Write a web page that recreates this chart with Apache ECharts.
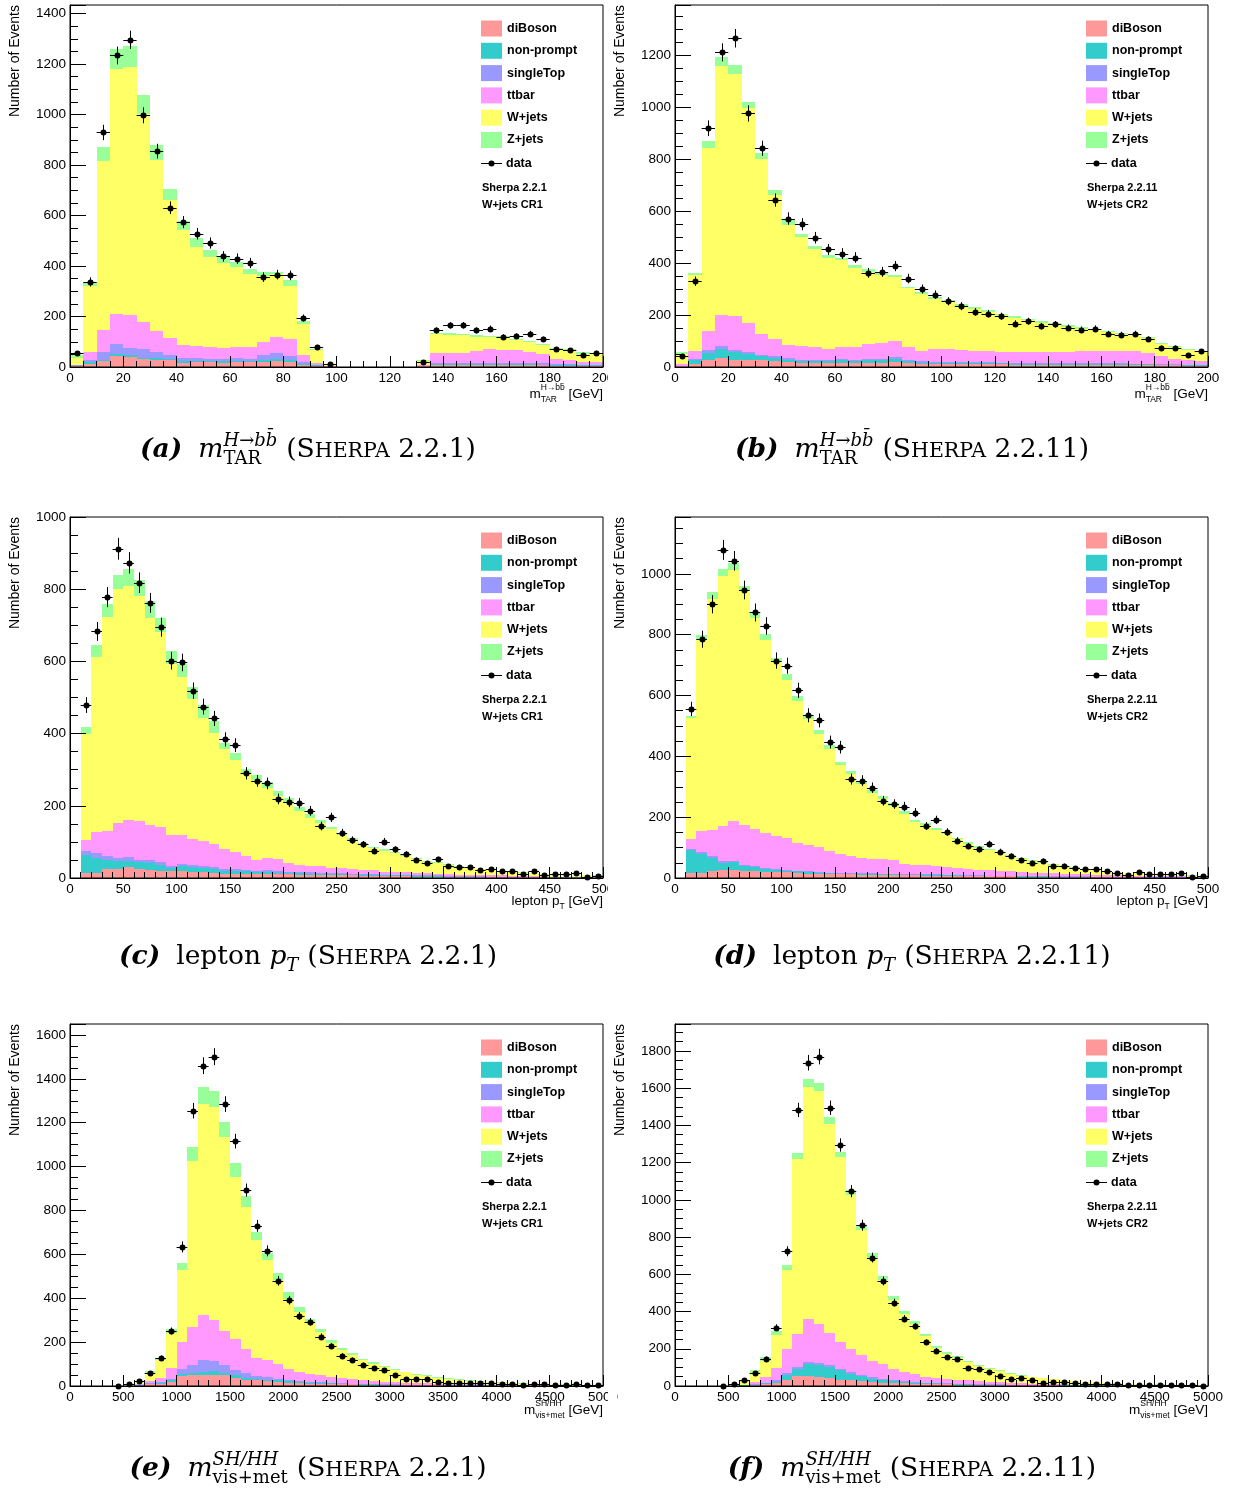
<!DOCTYPE html>
<html>
<head>
<meta charset="utf-8">
<script src="https://cdn.jsdelivr.net/npm/echarts@6/dist/echarts.min.js"></script>
<style>
  html, body { margin: 0; padding: 0; background: #fff; }
  #main { width: 1235px; height: 1492px; }
</style>
</head>
<body>
<div id="main"></div>
<script>
// stack order, bottom to top
const components = ['diBoson', 'non-prompt', 'singleTop', 'ttbar', 'W+jets', 'Z+jets'];
const colors = {
  'diBoson': '#ff9999',
  'non-prompt': '#33cccc',
  'singleTop': '#9999ff',
  'ttbar': '#ff99ff',
  'W+jets': '#ffff66',
  'Z+jets': '#99ff99'
};

// (a) m_TAR, Sherpa 2.2.1, W+jets CR1 -- 40 bins of 5 GeV from 0
const dibosonA   = [4,13,24,42,40,30,29,26,17,18,18,17,18,18,21,24,21,9,5,1, 0,0,0,0,0,0, 2,7,7,7,7,7,7,7,7,6,5,4,4,4];
const nonpromptA = [1,7,5,11,6,7,7,7,5,6,4,5,6,6,5,8,8,2,2,0, 0,0,0,0,0,0, 1,4,4,4,4,4,4,4,4,3,3,3,2,2];
const singletopA = [1,6,30,37,31,33,23,16,15,12,11,8,12,9,20,23,16,9,2,0, 0,0,0,0,0,0, 1,5,5,5,5,5,5,5,5,5,4,3,3,3];
const ttbarA     = [3,33,89,121,130,108,82,66,49,48,46,47,43,46,53,64,65,26,7,1, 0,0,0,0,0,0, 2,39,39,39,47,54,50,50,43,36,21,16,11,11];
const wjetsA     = [28,262,667,968,983,825,680,545,458,391,357,335,317,291,260,248,211,126,50,7, 0,0,0,0,0,0, 18,74,73,72,57,49,53,42,40,37,37,40,33,30];
const zjetsA     = [9,16,55,82,80,75,57,46,34,36,29,24,18,19,17,9,22,10,5,1, 0,0,0,0,0,0, 2,6,5,5,5,4,4,4,4,5,5,5,6,7];
const dataA      = [55,337,929,1234,1296,997,855,631,574,528,491,438,429,412,356,366,363,194,79,13, null,null,null,null,null,null, 20,145,165,165,145,152,119,123,132,110,70,67,49,57];

// (b) m_TAR, Sherpa 2.2.11, W+jets CR2
const dibosonB   = [3,13,26,36,26,28,26,22,18,15,15,15,15,15,17,17,18,14,12, 12,11,11,10,10,10,9,9,9,9,8,8,8,8,8,7,7,6,6,5,5];
const nonpromptB = [1,13,29,35,32,23,15,14,10,7,8,7,11,7,9,9,13,8,5, 5,5,4,4,4,4,4,3,3,3,3,3,3,3,3,3,3,2,2,2,2];
const singletopB = [1,6,9,9,6,7,4,5,8,4,5,4,6,6,6,6,7,4,5, 4,4,4,4,4,3,3,3,3,3,3,3,3,3,3,3,3,2,2,2,2];
const ttbarB     = [8,28,73,119,132,111,83,68,50,54,49,42,45,49,58,60,62,51,40, 49,48,47,45,42,41,40,41,41,43,44,46,48,49,49,47,39,32,22,16,13];
const wjetsB     = [38,295,707,960,931,826,672,552,459,420,375,352,334,304,276,261,246,225,220, 191,182,170,161,152,141,134,124,115,105,97,87,81,72,65,63,59,46,45,40,35];
const zjetsB     = [7,8,25,32,34,23,21,19,20,13,13,10,10,10,10,13,7,6,7, 7,7,7,6,6,6,5,5,5,5,5,5,5,5,4,4,4,4,3,3,3];
const dataB      = [41,330,918,1210,1264,975,841,642,571,549,497,452,436,421,362,366,388,340,300, 278,253,234,212,205,195,167,176,157,164,151,144,148,128,124,128,107,74,74,47,60];

// (c) lepton pT, Sherpa 2.2.1, CR1 -- 49 bins of 10 GeV from 10
const dibosonC   = [14,14,25,26,30,26,23,20,19,19,17,16,14,12,12,11,11,11,10,10,9,9, 8,8,7,7,6,6,5,5,5,4,4,4,3,3,3,3,2,2,2,2,2,1,1,1,1,1,1];
const nonpromptC = [51,42,26,20,16,18,19,17,9,13,13,12,11,8,8,8,5,6,5,4,4,3, 3,3,3,2,2,2,2,2,2,1,1,1,1,1,1,1,1,1,1,1,0,0,0,0,0,0,0];
const singletopC = [9,13,9,10,11,7,9,7,6,8,7,6,6,5,5,4,3,6,5,4,4,4, 4,3,3,3,3,3,2,2,2,2,2,2,2,1,1,1,1,1,1,1,1,1,1,1,1,1,0];
const ttbarC     = [32,58,71,97,105,106,97,97,86,80,71,68,62,54,46,39,32,33,33,24,20,16, 17,15,14,12,11,10,9,8,7,6,6,5,5,4,4,3,3,3,2,2,2,2,1,1,1,1,1];
const wjetsC     = [292,484,593,648,646,625,572,540,473,436,387,342,310,279,256,225,220,194,174,168,148,135, 120,106,91,80,71,61,58,51,44,39,32,29,25,22,18,16,14,12,11,9,8,7,7,6,5,4,4];
const zjetsC     = [19,34,35,39,47,44,46,39,37,37,33,35,32,17,20,16,14,16,14,12,11,9, 8,7,6,6,5,5,4,4,3,3,3,3,2,2,2,2,2,1,1,1,1,1,1,1,1,1,1];
const dataC      = [479,683,778,912,873,818,762,695,602,597,519,475,442,384,368,290,269,262,219,211,207,186, 144,168,125,105,93,76,101,79,66,50,41,52,33,31,30,22,24,20,20,11,19,8,10,10,13,4,6];

// (d) lepton pT, Sherpa 2.2.11, CR2
const dibosonD   = [16,16,22,25,27,24,22,20,19,19,16,14,14,13,12,12,11,11,10,10,9,9, 8,8,7,7,6,6,5,5,5,4,4,4,3,3,3,3,2,2,2,2,2,1,1,1,1,1,1];
const nonpromptD = [75,64,44,24,26,14,13,10,8,5,6,5,3,2,2,2,2,2,2,2,2,2, 2,2,2,2,2,1,1,1,1,1,1,1,1,1,1,1,1,1,1,1,0,0,0,0,0,0,0];
const singletopD = [4,4,5,6,4,6,6,3,4,3,2,3,2,1,2,2,2,2,2,2,2,2, 2,2,2,2,2,2,2,2,2,2,1,1,1,1,1,1,1,1,1,1,1,1,1,1,1,1,0];
const ttbarD     = [33,69,86,117,129,131,121,115,106,104,91,88,83,72,63,55,51,49,48,46,34,31, 30,27,25,22,20,18,17,16,15,13,12,11,10,9,8,7,7,6,5,5,4,4,3,3,3,2,2];
const wjetsD     = [398,628,760,821,827,769,692,633,572,519,468,412,372,336,293,271,243,217,198,178,164,141, 131,119,108,94,83,73,66,57,48,43,37,32,27,24,20,17,14,12,10,8,8,7,6,5,4,4,4];
const zjetsD     = [7,17,22,23,22,17,19,21,16,20,16,11,13,14,11,11,9,9,8,8,8,7, 7,7,6,6,5,5,4,4,4,3,3,3,3,2,2,2,2,2,2,1,1,1,1,1,1,1,1];
const dataD      = [556,785,900,1079,1043,947,873,829,715,698,617,535,518,447,430,325,320,297,254,243,235,215, 171,191,151,123,105,94,112,87,73,59,50,57,39,41,32,29,29,23,15,10,21,12,12,12,15,2,7];

// (e) m_vis+met, Sherpa 2.2.1, CR1 -- 50 bins of 100 GeV from 0
const dibosonE   = [0,0,0,0,0,0,2,7,11,18,44,52,52,52,49,38,29,26,23,18,15,13,11,10, 9,8,7,6,5,5,4,4,3,3,3,2,2,2,2,1,1,1,1,1,1,1,1,1,1,1];
const nonpromptE = [0,0,0,0,0,0,1,2,3,8,12,7,12,16,12,11,9,7,6,8,6,4,3,3, 3,2,2,2,2,1,1,1,1,1,1,1,1,1,1,1,0,0,0,0,0,0,0,0,0,0];
const singletopE = [0,0,0,0,0,0,1,4,4,7,23,35,53,45,33,22,21,11,12,7,5,4,4,3, 3,3,2,2,2,2,2,1,1,1,1,1,1,1,1,1,1,1,1,0,0,0,0,0,0,0];
const ttbarE     = [0,0,0,0,0,1,4,8,19,51,122,175,205,187,155,145,111,85,76,69,50,43,35,33, 27,23,20,17,14,12,10,9,8,7,6,5,4,4,3,3,3,2,2,2,2,1,1,1,1,1];
const wjetsE     = [0,0,0,0,1,4,15,38,80,159,330,756,962,970,887,738,647,536,459,380,322,274,239,197, 152,127,109,90,78,66,56,47,39,33,27,24,20,16,13,12,10,9,7,6,5,5,4,3,3,3];
const zjetsE     = [0,0,0,0,0,1,2,9,12,16,30,66,77,75,69,61,50,35,32,31,31,22,12,16, 14,12,10,8,7,6,5,4,4,3,3,2,2,2,2,1,1,1,1,1,1,1,1,1,0,0];
const dataE      = [null,null,null,null,2,10,23,61,128,251,634,1255,1460,1501,1285,1116,893,730,616,479,391,319,293,225, 182,138,119,96,81,73,50,32,32,32,17,15,15,12,12,12,11,9,6,9,8,6,6,8,6,3];

// (f) m_vis+met, Sherpa 2.2.11, CR2
const dibosonF   = [0,0,0,0,0,0,2,5,13,16,34,52,54,48,43,34,30,25,22,18,16,14,12,11, 10,9,8,7,6,5,5,4,4,3,3,3,2,2,2,2,1,1,1,1,1,1,1,1,1,1];
const nonpromptF = [0,0,0,0,0,0,1,2,3,6,23,41,66,67,59,54,36,27,17,16,9,7,5,4, 4,3,3,3,2,2,2,2,1,1,1,1,1,1,1,1,1,1,0,0,0,0,0,0,0,0];
const singletopF = [0,0,0,0,0,0,1,3,2,8,13,9,9,11,9,5,9,9,9,5,5,4,4,3, 3,3,2,2,2,2,2,1,1,1,1,1,1,1,1,1,1,1,1,0,0,0,0,0,0,0];
const ttbarF     = [0,0,0,0,0,1,4,12,30,67,131,180,230,209,176,144,126,104,86,78,60,50,45,30, 28,24,21,18,15,13,11,10,9,8,7,6,5,4,4,3,3,2,2,2,2,2,1,1,1,1];
const wjetsF     = [0,0,0,0,1,5,14,48,86,176,421,935,1246,1250,1119,995,825,672,556,455,374,314,269,219, 158,135,117,97,83,70,59,50,41,35,29,24,21,17,13,12,10,9,8,7,6,5,5,4,4,3];
const zjetsF     = [0,0,0,0,0,1,8,14,22,21,27,33,43,41,37,27,26,22,22,18,20,13,13,14, 12,11,9,8,7,6,5,4,4,3,3,2,2,2,2,1,1,1,1,1,1,1,1,1,0,0];
const dataF      = [null,null,null,null,2,9,30,70,147,314,724,1483,1737,1770,1495,1295,1047,864,690,565,448,362,321,235, 190,154,143,98,90,77,54,38,41,32,18,20,23,14,11,11,11,9,5,5,5,5,7,5,5,2];

const panels = [
  {left: 70,  top: 5,    height: 362, binStart: 0,  binWidth: 5,   xMax: 200,  xStep: 20,  yMax: 1434, kind: 'mtar', tag: '(a)', ver: '2.2.1',  region: 'W+jets CR1',
   stack: [dibosonA, nonpromptA, singletopA, ttbarA, wjetsA, zjetsA], data: dataA},
  {left: 675, top: 5,    height: 362, binStart: 0,  binWidth: 5,   xMax: 200,  xStep: 20,  yMax: 1392, kind: 'mtar', tag: '(b)', ver: '2.2.11', region: 'W+jets CR2',
   stack: [dibosonB, nonpromptB, singletopB, ttbarB, wjetsB, zjetsB], data: dataB},
  {left: 70,  top: 517,  height: 361, binStart: 10, binWidth: 10,  xMax: 500,  xStep: 50,  yMax: 1000, kind: 'pt',   tag: '(c)', ver: '2.2.1',  region: 'W+jets CR1',
   stack: [dibosonC, nonpromptC, singletopC, ttbarC, wjetsC, zjetsC], data: dataC},
  {left: 675, top: 517,  height: 361, binStart: 10, binWidth: 10,  xMax: 500,  xStep: 50,  yMax: 1187, kind: 'pt',   tag: '(d)', ver: '2.2.11', region: 'W+jets CR2',
   stack: [dibosonD, nonpromptD, singletopD, ttbarD, wjetsD, zjetsD], data: dataD},
  {left: 70,  top: 1024, height: 362, binStart: 0,  binWidth: 100, xMax: 5000, xStep: 500, yMax: 1650, kind: 'mvis', tag: '(e)', ver: '2.2.1',  region: 'W+jets CR1',
   stack: [dibosonE, nonpromptE, singletopE, ttbarE, wjetsE, zjetsE], data: dataE},
  {left: 675, top: 1024, height: 362, binStart: 0,  binWidth: 100, xMax: 5000, xStep: 500, yMax: 1945, kind: 'mvis', tag: '(f)', ver: '2.2.11', region: 'W+jets CR2',
   stack: [dibosonF, nonpromptF, singletopF, ttbarF, wjetsF, zjetsF], data: dataF}
];
const PLOT_W = 533;
const SANS = '"Liberation Sans"';
const SERIF = '"DejaVu Serif"';

function renderBin(params, api) {
  const lo = api.value(2), hi = api.value(3);
  if (!(hi > lo)) return null;
  const a = api.coord([api.value(0), hi]);
  const b = api.coord([api.value(1), lo]);
  const x0 = Math.round(a[0]), x1 = Math.round(b[0]);
  const y0 = Math.round(a[1]), y1 = Math.round(b[1]);
  if (y1 <= y0) return null;
  return {
    type: 'rect',
    shape: {x: x0, y: y0, width: x1 - x0, height: y1 - y0},
    style: {fill: api.visual('color')}
  };
}

function renderPoint(params, api) {
  const lo = api.value(0), hi = api.value(1), n = api.value(2);
  const err = Math.sqrt(n);
  const c = api.coord([(lo + hi) / 2, n]);
  const l = api.coord([lo, n]), r = api.coord([hi, n]);
  const t = api.coord([lo, n + err]), b = api.coord([lo, Math.max(n - err, 0)]);
  const y = Math.round(c[1]) + 0.5, x = Math.round(c[0]) + 0.5;
  return {
    type: 'group',
    children: [
      {type: 'line', shape: {x1: l[0], y1: y, x2: r[0], y2: y}, style: {stroke: '#000', lineWidth: 1}},
      {type: 'line', shape: {x1: x, y1: t[1], x2: x, y2: b[1]}, style: {stroke: '#000', lineWidth: 1}},
      {type: 'circle', shape: {cx: x, cy: y, r: 3}, style: {fill: '#000'}}
    ]
  };
}

function panelSeries(p, gi) {
  const base = p.stack[0].map(() => 0);
  const out = p.stack.map((vals, k) => {
    const items = vals.map((v, i) => {
      const lo = base[i];
      base[i] += v;
      return [p.binStart + i * p.binWidth, p.binStart + (i + 1) * p.binWidth, lo, base[i]];
    });
    return {
      type: 'custom', name: components[k], xAxisIndex: gi, yAxisIndex: 2 * gi,
      data: items, renderItem: renderBin, encode: {x: [0, 1], y: [2, 3]},
      itemStyle: {color: colors[components[k]]}, silent: true, z: 2
    };
  });
  const pts = [];
  p.data.forEach((v, i) => {
    if (v !== null) pts.push([p.binStart + i * p.binWidth, p.binStart + (i + 1) * p.binWidth, v]);
  });
  out.push({
    type: 'custom', name: 'data', xAxisIndex: gi, yAxisIndex: 2 * gi,
    data: pts, renderItem: renderPoint, encode: {x: [0, 1], y: 2}, silent: true, z: 5
  });
  return out;
}

// text helpers
const measureCtx = document.createElement('canvas').getContext('2d');
function fontStr(size, style, weight, family) {
  return (style || 'normal') + ' ' + (weight || 'normal') + ' ' + size + 'px ' + family;
}
function textWidth(str, font) { measureCtx.font = font; return measureCtx.measureText(str).width; }
function textEl(x, y, text, font, extra) {
  return Object.assign({
    type: 'text', x: x, y: y, z: 100, silent: true,
    style: {text: text, font: font, fill: '#000', align: 'left', verticalAlign: 'middle', textAlign: 'left', textVerticalAlign: 'middle'}
  }, extra || {});
}
function runWidth(r, fam) {
  if (r.gap !== undefined) return r.gap;
  if (r.t !== undefined) return textWidth(r.t, fontStr(r.size, r.style, r.weight, fam));
  return Math.max(textWidth(r.sup || '', fontStr(r.size, r.supStyle, null, fam)),
                  textWidth(r.sub || '', fontStr(r.size, r.subStyle, null, fam)));
}
function placeRuns(runs, fam, x, cy, supDy, subDy) {
  const out = [];
  runs.forEach(r => {
    if (r.t !== undefined) out.push(textEl(x, cy + (r.dy || 0), r.t, fontStr(r.size, r.style, r.weight, fam)));
    else if (r.gap === undefined) {
      if (r.sup) out.push(textEl(x, cy + supDy, r.sup, fontStr(r.size, r.supStyle, null, fam)));
      if (r.sub) out.push(textEl(x, cy + subDy, r.sub, fontStr(r.size, r.subStyle, null, fam)));
    }
    x += runWidth(r, fam);
  });
  return out;
}
function totalWidth(runs, fam) { return runs.reduce((s, r) => s + runWidth(r, fam), 0); }

function axisTitleRuns(kind) {
  const S = 13.5, s = 8.5;
  if (kind === 'mtar') return [{t: 'm', size: S}, {sup: 'H\u2192bb\u0304', sub: 'TAR', size: s}, {t: ' [GeV]', size: S}];
  if (kind === 'pt') return [{t: 'lepton p', size: S}, {sub: 'T', size: s}, {t: ' [GeV]', size: S}];
  return [{t: 'm', size: S}, {sup: 'SH/HH', sub: 'vis+met', size: s}, {t: ' [GeV]', size: S}];
}
const titleDy = {mtar: 27, pt: 23, mvis: 24};

function captionRuns(p) {
  const S = 26.5, sc = 20.5, ss = 18;
  const runs = [{t: p.tag, size: S, style: 'italic', weight: 'bold'}, {gap: 16}];
  if (p.kind === 'pt') runs.push({t: 'lepton ', size: S}, {t: 'p', size: S, style: 'italic'}, {sub: 'T', size: ss, subStyle: 'italic'});
  else if (p.kind === 'mtar') runs.push({t: 'm', size: S, style: 'italic'}, {sup: 'H\u2192bb\u0304', supStyle: 'italic', sub: 'TAR', size: ss});
  else runs.push({t: 'm', size: S, style: 'italic'}, {sup: 'SH/HH', supStyle: 'italic', sub: 'vis+met', size: ss});
  runs.push({gap: 9}, {t: '(S', size: S}, {t: 'HERPA', size: sc, dy: 0.35 * (S - sc)}, {t: ' ' + p.ver + ')', size: S});
  return runs;
}
const captionY = [450, 450, 957, 957, 1469, 1469];

const graphics = [];
panels.forEach((p, i) => {
  const bottom = p.top + p.height, right = p.left + PLOT_W;
  // y title
  graphics.push(textEl(p.left - 55, p.top, 'Number of Events', fontStr(14, null, null, SANS), {
    rotation: Math.PI / 2,
    style: {text: 'Number of Events', font: fontStr(14, null, null, SANS), fill: '#000', align: 'right', verticalAlign: 'middle', textAlign: 'right', textVerticalAlign: 'middle'}
  }));
  // x title, right aligned
  const xr = axisTitleRuns(p.kind);
  graphics.push(...placeRuns(xr, SANS, right - totalWidth(xr, SANS), bottom + titleDy[p.kind], -6, 6));
  // data legend entry and labels
  const lx = p.left + 411, ly = p.top + 158.5;
  graphics.push({type: 'line', z: 100, silent: true, shape: {x1: lx, y1: ly, x2: lx + 21, y2: ly}, style: {stroke: '#000', lineWidth: 1}});
  graphics.push({type: 'circle', z: 100, silent: true, shape: {cx: lx + 10.5, cy: ly, r: 3}, style: {fill: '#000'}});
  graphics.push(textEl(lx + 25, ly, 'data', fontStr(12.5, null, 'bold', SANS)));
  graphics.push(textEl(lx + 1, p.top + 182.5, 'Sherpa ' + p.ver, fontStr(11, null, 'bold', SANS)));
  graphics.push(textEl(lx + 1, p.top + 199.5, p.region, fontStr(11, null, 'bold', SANS)));
  // caption
  const cr = captionRuns(p);
  const cx = (i % 2 === 0) ? 308 : 912;
  graphics.push(...placeRuns(cr, SERIF, cx - totalWidth(cr, SERIF) / 2, captionY[i], -9, 9));
  // left column pictures are cropped just right of the frame
  if (i % 2 === 0) {
    graphics.push({type: 'rect', z: 200, silent: true, shape: {x: 608, y: bottom + 1, width: 9, height: 20}, style: {fill: '#fff'}});
  }
});

const labelStyle = {color: '#000', fontFamily: SANS, fontSize: 13.5};

const option = {
  animation: false,
  backgroundColor: '#fff',
  grid: panels.map(p => ({
    left: p.left, top: p.top, width: PLOT_W, height: p.height,
    show: true, borderColor: '#000', borderWidth: 1, backgroundColor: 'transparent', z: 10
  })),
  xAxis: panels.map((p, i) => ({
    type: 'value', gridIndex: i, min: 0, max: p.xMax, interval: p.xStep,
    axisLine: {show: true, onZero: false, lineStyle: {color: '#000', width: 1}},
    axisTick: {show: true, inside: true, length: 11, lineStyle: {color: '#000'}},
    minorTick: {show: true, splitNumber: p.xStep / p.binWidth, length: 6, lineStyle: {color: '#000'}},
    splitLine: {show: false},
    axisLabel: Object.assign({margin: 4, formatter: v => String(v)}, labelStyle),
    z: 10
  })),
  yAxis: panels.flatMap((p, i) => [
    {
      type: 'value', gridIndex: i, min: 0, max: p.yMax, interval: 200, position: 'left',
      axisLine: {show: true, lineStyle: {color: '#000', width: 1}},
      axisTick: {show: true, inside: true, length: 16, lineStyle: {color: '#000'}},
      splitLine: {show: false},
      axisLabel: Object.assign({margin: 4, formatter: v => (v % 200 === 0 ? String(v) : '')}, labelStyle),
      z: 10
    },
    {
      type: 'value', gridIndex: i, min: 0, max: p.yMax, interval: 50, position: 'left',
      axisLine: {show: false},
      axisTick: {show: true, inside: true, length: 8, lineStyle: {color: '#000'}},
      splitLine: {show: false},
      axisLabel: {show: false},
      z: 10
    }
  ]),
  legend: panels.map(p => ({
    orient: 'vertical', left: p.left + 411, top: p.top + 15.5, padding: 0,
    itemWidth: 21, itemHeight: 16, itemGap: 6.3, icon: 'rect', selectedMode: false,
    textStyle: {fontFamily: SANS, fontWeight: 'bold', fontSize: 12.5, color: '#000'},
    data: components.map(n => ({name: n, itemStyle: {color: colors[n]}}))
  })),
  graphic: {elements: graphics},
  series: panels.flatMap((p, i) => panelSeries(p, i))
};

const chart = echarts.init(document.getElementById('main'), null, {renderer: 'canvas'});
chart.setOption(option);
</script>
</body>
</html>
